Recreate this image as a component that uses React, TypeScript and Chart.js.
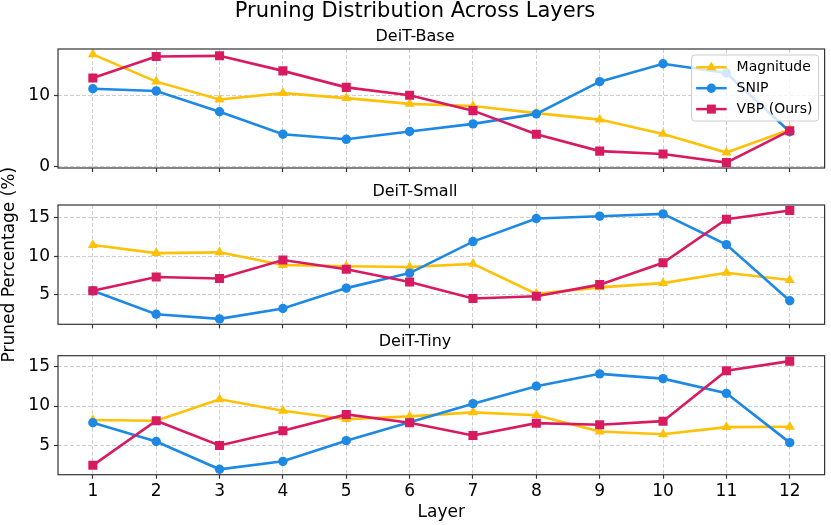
import React, { useEffect, useRef } from 'react';
import { Chart, registerables } from 'chart.js';

Chart.register(...registerables);

// ---------- data ----------
const layers = [1, 2, 3, 4, 5, 6, 7, 8, 9, 10, 11, 12];
const seriesNames = ['Magnitude', 'SNIP', 'VBP (Ours)'];

const baseMagnitude = [15.7, 11.9, 9.4, 10.3, 9.6, 8.8, 8.5, 7.5, 6.6, 4.6, 2.0, 5.2];
const baseSnip = [10.9, 10.6, 7.7, 4.55, 3.85, 4.95, 6.0, 7.4, 11.9, 14.4, 13.1, 4.9];
const baseVbp = [12.4, 15.4, 15.5, 13.4, 11.1, 10.0, 7.85, 4.55, 2.2, 1.8, 0.6, 5.05];

const smallMagnitude = [11.45, 10.4, 10.5, 8.85, 8.7, 8.6, 9.0, 5.1, 5.95, 6.5, 7.85, 6.9];
const smallSnip = [5.5, 2.45, 1.85, 3.2, 5.85, 7.8, 11.9, 14.9, 15.2, 15.5, 11.5, 4.2];
const smallVbp = [5.5, 7.3, 7.1, 9.5, 8.3, 6.65, 4.5, 4.8, 6.3, 9.15, 14.8, 15.95];

const tinyMagnitude = [8.25, 8.15, 10.85, 9.4, 8.35, 8.7, 9.2, 8.85, 6.8, 6.45, 7.35, 7.4];
const tinySnip = [7.9, 5.55, 2.05, 3.05, 5.65, 7.95, 10.3, 12.5, 14.05, 13.45, 11.6, 5.4];
const tinyVbp = [2.55, 8.15, 5.05, 6.9, 8.95, 7.9, 6.3, 7.85, 7.65, 8.1, 14.45, 15.65];

const baseTicks = [0, 10];
const smallTicks = [5, 10, 15];
const tinyTicks = [5, 10, 15];
const xTicks = layers;

// ---------- styles ----------
const FONT = "'DejaVu Sans', 'Liberation Sans', sans-serif";
const COLORS = ['#FFC107', '#1E88E5', '#D81B60'];
const STYLES = ['triangle', 'circle', 'rect'];
const RADII = [5.8, 4.7, 6.4];
const GRID = 'rgba(190,190,190,0.75)';
const SPINE = '#333333';
const W = 831;

function bounds(series: number[][]) {
  const all = series.flat();
  const lo = Math.min(...all);
  const hi = Math.max(...all);
  const m = (hi - lo) * 0.05;
  return [lo - m, hi + m];
}

const framePlugin = {
  id: 'frame',
  afterDraw(chart: any) {
    const { ctx, chartArea: a } = chart;
    ctx.save();
    ctx.strokeStyle = SPINE;
    ctx.lineWidth = 1.2;
    ctx.strokeRect(a.left, a.top, a.right - a.left, a.bottom - a.top);
    ctx.restore();
  },
};

function drawMarker(ctx: CanvasRenderingContext2D, style: string, x: number, y: number, r: number) {
  ctx.beginPath();
  if (style === 'circle') {
    ctx.arc(x, y, r, 0, Math.PI * 2);
  } else if (style === 'rect') {
    const s = r / Math.SQRT2;
    ctx.rect(x - s, y - s, 2 * s, 2 * s);
  } else {
    for (let k = 0; k < 3; k++) {
      const ang = (k * 2 * Math.PI) / 3;
      const px = x + Math.sin(ang) * r;
      const py = y - Math.cos(ang) * r;
      if (k === 0) ctx.moveTo(px, py);
      else ctx.lineTo(px, py);
    }
    ctx.closePath();
  }
  ctx.fill();
}

const legendPlugin = {
  id: 'insideLegend',
  afterDraw(chart: any) {
    const { ctx, chartArea: a } = chart;
    const w = 127;
    const h = 66;
    const x0 = a.right - 6 - w;
    const y0 = a.top + 6;
    ctx.save();
    ctx.beginPath();
    const r = 3;
    ctx.moveTo(x0 + r, y0);
    ctx.lineTo(x0 + w - r, y0);
    ctx.arcTo(x0 + w, y0, x0 + w, y0 + r, r);
    ctx.lineTo(x0 + w, y0 + h - r);
    ctx.arcTo(x0 + w, y0 + h, x0 + w - r, y0 + h, r);
    ctx.lineTo(x0 + r, y0 + h);
    ctx.arcTo(x0, y0 + h, x0, y0 + h - r, r);
    ctx.lineTo(x0, y0 + r);
    ctx.arcTo(x0, y0, x0 + r, y0, r);
    ctx.closePath();
    ctx.fillStyle = 'rgba(255,255,255,0.8)';
    ctx.fill();
    ctx.strokeStyle = '#cccccc';
    ctx.lineWidth = 1;
    ctx.stroke();
    seriesNames.forEach((name, i) => {
      const cy = y0 + 12.3 + i * 20.9;
      ctx.strokeStyle = COLORS[i];
      ctx.lineWidth = 2.5;
      ctx.beginPath();
      ctx.moveTo(x0 + 4.5, cy);
      ctx.lineTo(x0 + 35, cy);
      ctx.stroke();
      ctx.fillStyle = COLORS[i];
      drawMarker(ctx, STYLES[i], x0 + 19.75, cy, RADII[i]);
      ctx.fillStyle = '#000';
      ctx.font = `14px ${FONT}`;
      ctx.textBaseline = 'middle';
      ctx.textAlign = 'left';
      ctx.fillText(name, x0 + 45, cy + 0.5);
    });
    ctx.restore();
  },
};

type Panel = {
  name: string;
  series: number[][];
  yTicks: number[];
  top: number;
  height: number;
  titlePad: { top: number; bottom: number };
  xh: number;
  z: number;
  main?: boolean;
  bottom?: boolean;
  ylabel?: boolean;
};

const panels: Panel[] = [
  { name: 'DeiT-Base', series: [baseMagnitude, baseSnip, baseVbp], yTicks: baseTicks, top: 0, height: 175, titlePad: { top: 3.8, bottom: 2.9 }, xh: 7, z: 1, main: true },
  { name: 'DeiT-Small', series: [smallMagnitude, smallSnip, smallVbp], yTicks: smallTicks, top: 140, height: 260, titlePad: { top: 41.9, bottom: 3.9 }, xh: 75.7, z: 3, ylabel: true },
  { name: 'DeiT-Tiny', series: [tinyMagnitude, tinySnip, tinyVbp], yTicks: tinyTicks, top: 331, height: 194, titlePad: { top: 1.6, bottom: 3.9 }, xh: 50.3, z: 2, bottom: true },
];

function makeConfig(p: Panel): any {
  const [ymin, ymax] = bounds(p.series);
  const datasets = p.series.map((vals, i) => ({
    label: seriesNames[i],
    data: layers.map((x, j) => ({ x, y: vals[j] })),
    borderColor: COLORS[i],
    backgroundColor: COLORS[i],
    borderWidth: 2.6,
    pointStyle: STYLES[i],
    pointRadius: RADII[i],
    pointBorderWidth: 0,
    pointBackgroundColor: COLORS[i],
    tension: 0,
    fill: false,
    order: 3 - i,
  }));
  const tickFont = { family: FONT, size: 17 };
  const titleCfg = p.main
    ? { display: true, text: 'Pruning Distribution Across Layers', color: '#000', font: { family: FONT, size: 21, weight: 'normal', lineHeight: 1.1 }, padding: { top: 0, bottom: 0 } }
    : { display: true, text: p.name, color: '#000', font: { family: FONT, size: 16, weight: 'normal', lineHeight: 1.2 }, padding: p.titlePad };
  const subtitleCfg = p.main
    ? { display: true, text: p.name, color: '#000', font: { family: FONT, size: 16, weight: 'normal', lineHeight: 1.2 }, padding: p.titlePad }
    : { display: false };
  return {
    type: 'line',
    data: { datasets },
    options: {
      responsive: false,
      maintainAspectRatio: false,
      animation: false,
      events: [],
      layout: { padding: { left: 0, right: 1, top: 0, bottom: 0 } },
      plugins: {
        legend: { display: false },
        tooltip: { enabled: false },
        title: titleCfg,
        subtitle: subtitleCfg,
      },
      scales: {
        x: {
          type: 'linear',
          min: 0.45,
          max: 12.55,
          afterBuildTicks: (ax: any) => {
            ax.ticks = xTicks.map((v) => ({ value: v }));
          },
          ticks: { display: !!p.bottom, font: tickFont, color: '#000', padding: 3, maxRotation: 0, autoSkip: false, callback: (v: any) => String(v) },
          grid: { color: GRID, lineWidth: 1, tickColor: SPINE, tickLength: 4, tickWidth: 1.2, drawTicks: true },
          border: { display: false, dash: [4, 2] },
          title: p.bottom
            ? { display: true, text: 'Layer', color: '#000', font: { family: FONT, size: 17, lineHeight: 1.2 }, padding: { top: 0, bottom: 2 } }
            : { display: false },
          afterFit: (s: any) => {
            s.height = p.xh;
            s.paddingLeft = 0;
            s.paddingRight = 0;
          },
        },
        y: {
          type: 'linear',
          min: ymin,
          max: ymax,
          afterBuildTicks: (ax: any) => {
            ax.ticks = p.yTicks.map((v) => ({ value: v }));
          },
          ticks: { font: tickFont, color: '#000', padding: 4, callback: (v: any) => String(v) },
          grid: { color: GRID, lineWidth: 1, tickColor: SPINE, tickLength: 4, tickWidth: 1.2, drawTicks: true },
          border: { display: false, dash: [4, 2] },
          title: p.ylabel
            ? { display: true, text: 'Pruned Percentage (%)', color: '#000', font: { family: FONT, size: 17, lineHeight: 1.1 }, padding: { top: 0, bottom: 0 } }
            : { display: false },
          afterFit: (s: any) => {
            s.width = 58;
            s.paddingTop = 0;
            s.paddingBottom = 0;
          },
        },
      },
    },
    plugins: p.main ? [framePlugin, legendPlugin] : [framePlugin],
  };
}

function PanelChart({ p }: { p: Panel }) {
  const ref = useRef<HTMLCanvasElement | null>(null);
  useEffect(() => {
    if (!ref.current) return;
    const chart = new Chart(ref.current, makeConfig(p));
    return () => chart.destroy();
  }, [p]);
  return (
    <canvas
      ref={ref}
      width={W}
      height={p.height}
      style={{ position: 'absolute', left: 0, top: p.top, width: W, height: p.height, display: 'block', zIndex: p.z }}
    />
  );
}

export default function App() {
  return (
    <div style={{ position: 'fixed', left: 0, top: 0, width: W, height: 525, background: '#ffffff', overflow: 'hidden' }}>
      {panels.map((p) => (
        <PanelChart key={p.name} p={p} />
      ))}
    </div>
  );
}
